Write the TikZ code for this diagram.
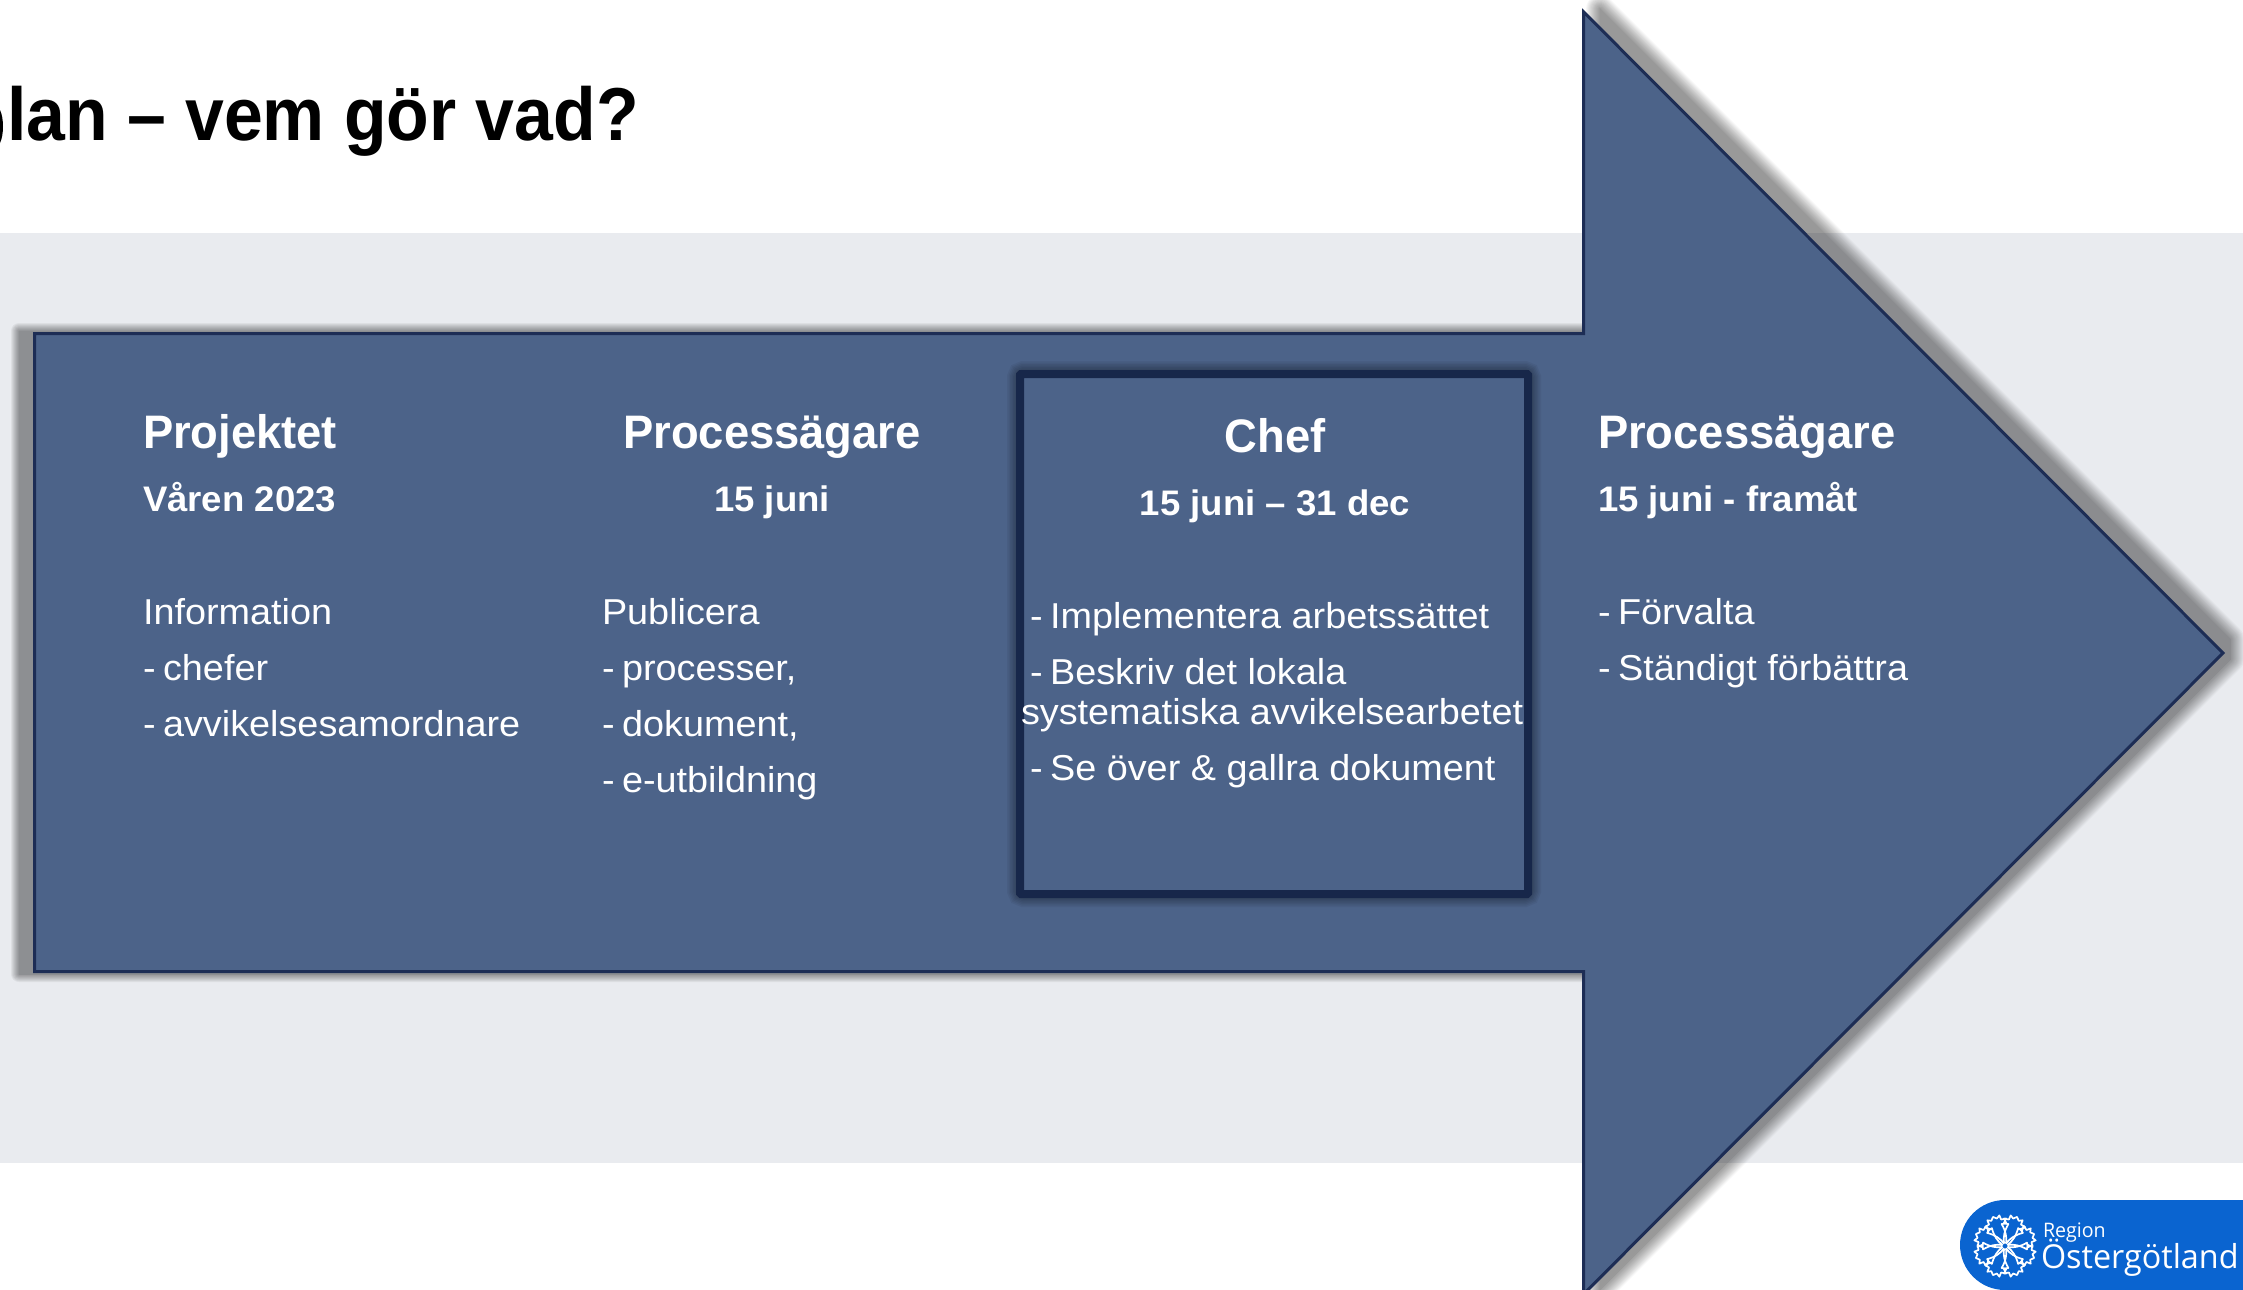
\documentclass[tikz,border=0pt]{standalone}
\usepackage{fontspec}
\setmainfont{Liberation Sans}
\newfontfamily\logofont[FakeStretch=0.98]{Open Sans}
\newfontfamily\bodyfont[FakeStretch=1.05]{Liberation Sans}
\newfontfamily\headfont[FakeStretch=0.965]{Liberation Sans}
\newfontfamily\datefont[FakeStretch=1.03]{Liberation Sans}
\newfontfamily\titlefont[FakeStretch=0.93]{Liberation Sans}
\definecolor{arrowfill}{HTML}{4C6389}
\definecolor{arrowline}{HTML}{1D2D55}
\definecolor{boxline}{HTML}{17274A}
\definecolor{band}{HTML}{E9EBEF}
\definecolor{logoblue}{HTML}{0A64D0}
\newcommand{\fpx}[1]{\fontsize{\dimexpr #1pt/2\relax}{\dimexpr #1pt/2\relax}\selectfont}
\newcommand{\dsh}{-\kern-1.5pt\ }
\tikzset{
  txt/.style={inner sep=0pt,outer sep=0pt,anchor=base west,text=white},
  ctxt/.style={inner sep=0pt,outer sep=0pt,anchor=base,text=white},
  head/.style={font=\headfont\fpx{47}\bfseries},
  datum/.style={font=\datefont\fpx{35.5}\bfseries},
  body/.style={font=\bodyfont\fpx{36}},
  titel/.style={inner sep=0pt,outer sep=0pt,anchor=base west,text=black,font=\titlefont\fpx{75}\bfseries},
  logotxt/.style={inner sep=0pt,outer sep=0pt,anchor=base west,text=white}
}
\begin{document}
\begin{tikzpicture}[x=0.5pt,y=-0.5pt]
\useasboundingbox (0,0) rectangle (2243,1290);
\fill[white] (0,0) rectangle (2243,1290);
\fill[band] (0,233) rectangle (2243,1162.5);
% title
\fill[black] (0,110) .. controls (4,118) and (4,135) .. (0,143) -- cycle;
\node[titel] (title) at (7,140) {lan – vem gör vad?};
% arrow shadow: shaft
\foreach \w in {0,2,...,16}{
  \begin{scope}[transparency group,opacity=0.052]
  \filldraw[black,line join=round,line width=\w*0.5pt]
   (19,331) -- (1590,331) -- (1590,974) -- (19,974) -- cycle;
  \end{scope}
}
% arrow shadow: head
\foreach \w in {0,2,...,28}{
  \begin{scope}[transparency group,opacity=0.032]
  \filldraw[black,line join=round,line width=\w*0.5pt]
   (1600,9) -- (2230,639) -- (2230,659) -- (1600,1289) -- cycle;
  \end{scope}
}
% arrow
\draw[fill=arrowfill,draw=arrowline,line width=1.5pt,line join=miter]
  (34.5,333.5) -- (1583.7,333.5) -- (1583.7,12) -- (2223,653) -- (1583.7,1294) -- (1583.7,971.5) -- (34.5,971.5) -- cycle;
% chef box glow
\foreach \w in {8,11,...,26}{
  \draw[black,opacity=0.05,line width=\w*0.5pt,rounded corners=2pt] (1020,374) rectangle (1528,894);
}
\node[draw=boxline,line width=4pt,rounded corners=0.5pt,fill=arrowfill,minimum width=254pt,minimum height=260pt,inner sep=0pt] (chefbox) at (1274,634) {};
% column 1
\node[txt,head] (c1h) at (143,448) {Projektet};
\node[txt,datum] (c1d) at (143,511) {Våren 2023};
\node[txt,body] (c1a) at (143,624) {Information};
\node[txt,body] (c1b) at (143,680) {\dsh chefer};
\node[txt,body] (c1c) at (143,736) {\dsh avvikelsesamordnare};
% column 2
\node[ctxt,head] (c2h) at (772,448) {Processägare};
\node[ctxt,datum] (c2d) at (772,511) {15 juni};
\node[txt,body] (c2a) at (602,624) {Publicera};
\node[txt,body] (c2b) at (602,680) {\dsh processer,};
\node[txt,body] (c2c) at (602,736) {\dsh dokument,};
\node[txt,body] (c2e) at (602,792) {\dsh e-utbildning};
% column 3
\node[ctxt,head] (c3h) at (1275,452) {Chef};
\node[ctxt,datum] (c3d) at (1275,515) {15 juni – 31 dec};
\node[txt,body] (c3a) at (1030,628) {\dsh Implementera arbetssättet};
\node[txt,body] (c3b) at (1030,684) {\dsh Beskriv det lokala};
\node[txt,body] (c3c) at (1021,724) {systematiska avvikelsearbetet};
\node[txt,body] (c3e) at (1030,780) {\dsh Se över \& gallra dokument};
% column 4
\node[txt,head] (c4h) at (1598,448) {Processägare};
\node[txt,datum] (c4d) at (1598,511) {15 juni - framåt};
\node[txt,body] (c4a) at (1598,624) {\dsh Förvalta};
\node[txt,body] (c4b) at (1598,680) {\dsh Ständigt förbättra};
% logo
\fill[logoblue] (2243,1200) -- (2005,1200) arc[start angle=-90,end angle=-270,radius=45] -- (2243,1290) -- cycle;
\foreach \a in {22.5,67.5,...,337.5}{
  \draw[white,line width=0.85pt,line join=round,shift={(2005,1246)},rotate=\a]
    (2.5,0) .. controls (9,-1.5) and (14,-5) .. (19,-11.5) -- (21.5,-7.5) -- (25,-11.5) -- (26,-6.5) -- (30.5,-6.5) -- (28.5,-3) -- (31.5,0)
    -- (28.5,3) -- (30.5,6.5) -- (26,6.5) -- (25,11.5) -- (21.5,7.5) -- (19,11.5) .. controls (14,5) and (9,1.5) .. (2.5,0);
}
\node[logotxt,font=\logofont\fpx{20}] (logo1) at (2043,1237) {Region};
\node[logotxt,font=\logofont\fpx{33}] (logo2) at (2041,1268) {Östergötland};
\end{tikzpicture}
\end{document}
